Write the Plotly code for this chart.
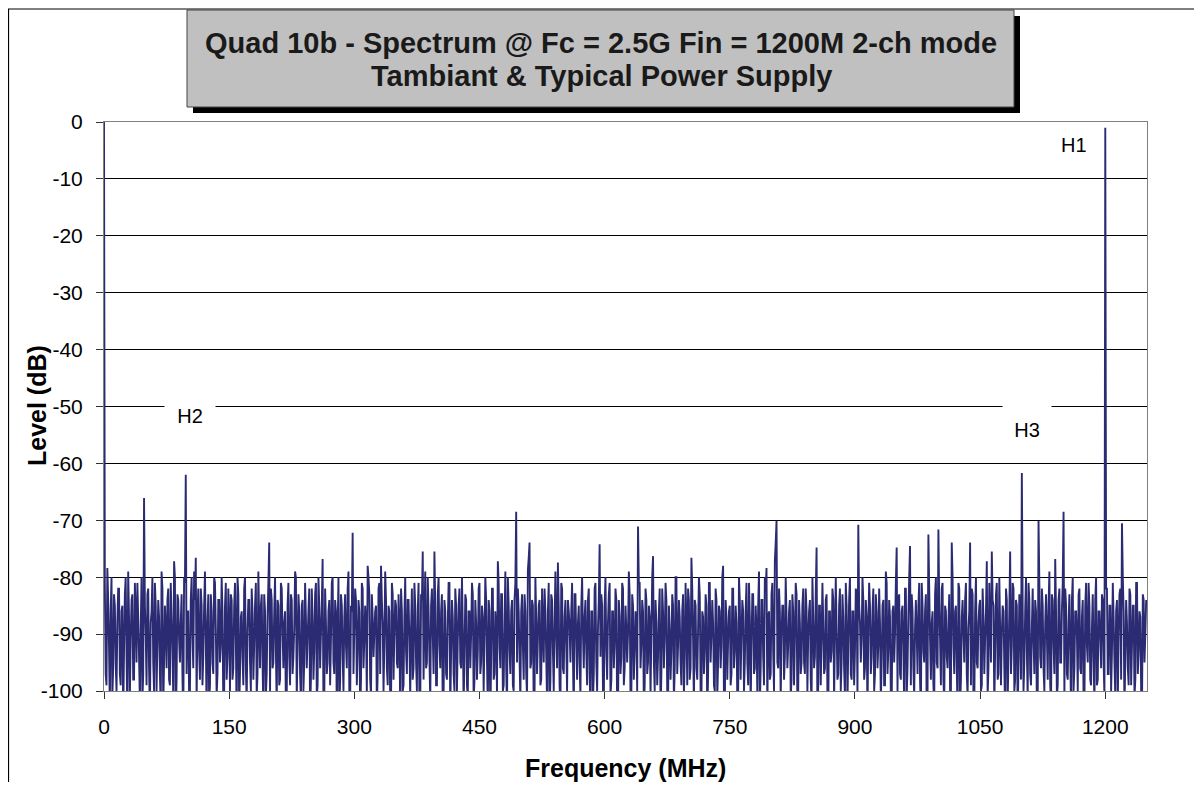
import plotly.graph_objects as go

# ---------------- data ----------------
# spectrum levels (dB) on even MHz bins 0,2,4,...
noise_even_0_250 = [
    -84, -97, -79, -92, -86, -101, -83, -95, -88, -82, -99, -85, -93, -80, -104, -87, -91, -83, -98, -86, -81, -94, -89, -102, -84,
    -90, -83, -96, -88, -80, -100, -85, -92, -87, -103, -82, -95, -89, -84, -98, -81, -93, -86, -105, -83, -91, -88, -97, -80, -94,
    -86, -101, -84, -90, -79, -96, -87, -93, -82, -99, -85, -91, -88, -102, -83, -95, -80, -89, -97, -84, -92, -86, -100, -81, -94,
    -88, -83, -98, -85, -91, -80, -103, -87, -94, -82, -96, -89, -84, -100, -86, -92, -81, -97, -88, -85, -95, -83, -101, -87, -90,
    -82, -96, -86, -93, -84, -99, -81, -90, -88, -104, -85, -94, -83, -97, -89, -80, -92, -86, -102, -84, -95, -87, -91, -82, -98,
]
noise_even_250_500 = [
    -87, -93, -81, -99, -85, -90, -83, -102, -88, -95, -84, -91, -80, -97, -86, -89, -104, -83, -94, -87, -92, -82, -100, -85, -96,
    -89, -84, -93, -86, -98, -82, -91, -88, -95, -83, -101, -87, -90, -85, -97, -81, -94, -88, -92, -84, -99, -86, -103, -83, -90,
    -85, -96, -88, -82, -100, -87, -93, -84, -91, -89, -98, -81, -95, -86, -102, -83, -92, -88, -96, -80, -94, -85, -90, -87, -99,
    -83, -92, -86, -105, -84, -97, -88, -81, -93, -87, -100, -85, -91, -82, -96, -89, -94, -84, -101, -86, -90, -83, -98, -88, -93,
    -81, -95, -87, -91, -84, -103, -86, -94, -82, -97, -89, -85, -92, -83, -100, -88, -96, -80, -93, -86, -99, -84, -90, -82, -94,
]
noise_even_500_750 = [
    -86, -92, -83, -97, -88, -80, -95, -85, -101, -87, -91, -84, -98, -89, -82, -94, -86, -104, -83, -93, -88, -90, -85, -99, -81,
    -96, -87, -92, -84, -89, -86, -94, -83, -91, -88, -95, -85, -90, -87, -93, -84, -97, -86, -102, -82, -95, -89, -91, -83, -100,
    -85, -93, -88, -81, -98, -86, -92, -84, -105, -87, -94, -82, -96, -89, -90, -83, -101, -85, -93, -88, -97, -81, -92, -86, -99,
    -84, -95, -87, -90, -83, -100, -88, -94, -82, -97, -86, -91, -84, -103, -89, -93, -85, -96, -80, -92, -87, -99, -83, -94, -88,
    -82, -98, -86, -91, -84, -96, -89, -83, -102, -87, -93, -85, -97, -81, -90, -88, -100, -84, -95, -86, -92, -83, -104, -87, -91,
]
noise_even_750_1000 = [
    -85, -97, -82, -93, -88, -101, -84, -90, -86, -95, -81, -99, -87, -92, -83, -96, -89, -85, -103, -84, -94, -80, -91, -87, -98,
    -83, -93, -88, -84, -96, -86, -90, -85, -94, -87, -92, -84, -98, -86, -91, -83, -100, -88, -95, -82, -97, -86, -90, -84, -102,
    -87, -94, -81, -99, -85, -91, -88, -96, -83, -104, -86, -93, -84, -90, -89, -97, -82, -95, -87, -101, -85, -92, -80, -98, -86,
    -93, -83, -100, -88, -91, -84, -96, -87, -89, -85, -94, -82, -97, -86, -92, -88, -95, -84, -99, -81, -93, -87, -103, -85, -90,
    -88, -84, -97, -86, -92, -82, -101, -87, -94, -83, -96, -89, -90, -85, -98, -81, -93, -86, -105, -84, -91, -88, -99, -83, -95,
]
noise_even_1000_1250 = [
    -87, -91, -82, -98, -85, -94, -88, -100, -83, -92, -86, -96, -81, -103, -87, -90, -84, -97, -89, -93, -82, -101, -86, -95, -88,
    -84, -99, -87, -91, -83, -96, -88, -102, -85, -93, -81, -97, -89, -90, -86, -104, -84, -94, -87, -92, -82, -98, -85, -95, -88,
    -83, -100, -86, -93, -81, -97, -89, -91, -84, -103, -87, -94, -82, -96, -88, -90, -85, -99, -83, -92, -87, -101, -84, -95, -86,
    -91, -82, -97, -88, -93, -84, -100, -86, -90, -83, -96, -87, -102, -85, -92, -81, -98, -89, -94, -84, -99, -86, -91, -83, -95,
    -88, -82, -97, -85, -93, -87, -101, -84, -90, -82, -96, -86, -94, -88, -99, -83, -92, -85, -98, -81, -93, -87, -103, -84, -90,
]
# spectrum levels (dB) on odd MHz bins 1,3,5,...
noise_odd_0_250 = [
    -81, -99, -84, -103, -80, -96, -85, -100, -82, -97, -86, -105, -83, -94, -79, -101, -84, -98, -81, -95, -87, -102, -80, -97, -85,
    -99, -82, -104, -86, -95, -81, -100, -84, -97, -79, -103, -85, -96, -82, -99, -87, -101, -80, -98, -84, -95, -83, -106, -81, -97,
    -86, -100, -80, -96, -84, -102, -82, -98, -85, -94, -79, -104, -83, -99, -86, -97, -81, -101, -84, -95, -80, -103, -85, -98, -82,
    -100, -84, -96, -81, -105, -83, -97, -86, -99, -80, -102, -84, -95, -82, -98, -85, -101, -79, -96, -83, -104, -86, -97, -81, -100,
    -84, -95, -80, -103, -85, -98, -82, -96, -86, -101, -81, -99, -84, -94, -79, -102, -83, -97, -85, -100, -81, -96, -86, -104, -82,
]
noise_odd_250_500 = [
    -98, -83, -101, -80, -96, -85, -103, -82, -97, -86, -99, -81, -95, -84, -104, -80, -98, -85, -100, -83, -96, -79, -102, -86, -97,
    -82, -99, -84, -105, -81, -96, -85, -101, -80, -98, -83, -94, -86, -103, -82, -97, -84, -100, -79, -96, -85, -102, -81, -98, -84,
    -95, -83, -104, -86, -99, -80, -97, -84, -101, -82, -96, -85, -100, -81, -103, -84, -98, -79, -95, -86, -102, -82, -97, -85, -99,
    -80, -96, -83, -101, -86, -98, -81, -104, -84, -97, -82, -100, -85, -95, -80, -103, -83, -99, -86, -96, -81, -102, -84, -98, -82,
    -97, -85, -100, -80, -95, -84, -106, -82, -98, -86, -101, -81, -96, -83, -99, -79, -103, -85, -97, -84, -100, -81, -95, -86, -102,
]
noise_odd_500_750 = [
    -83, -98, -86, -101, -81, -96, -84, -104, -80, -97, -85, -99, -82, -95, -86, -102, -81, -98, -84, -100, -79, -96, -85, -103, -82,
    -97, -84, -100, -86, -95, -81, -105, -83, -98, -85, -101, -80, -96, -84, -99, -82, -103, -86, -97, -81, -100, -84, -94, -85, -102,
    -80, -98, -83, -101, -86, -96, -82, -104, -84, -97, -81, -99, -85, -95, -79, -102, -83, -98, -86, -100, -81, -96, -84, -103, -82,
    -97, -85, -101, -80, -95, -84, -99, -86, -104, -82, -96, -81, -100, -85, -98, -83, -102, -80, -97, -84, -95, -86, -101, -81, -99,
    -84, -96, -82, -103, -85, -98, -80, -100, -86, -97, -83, -105, -81, -95, -84, -99, -82, -101, -85, -96, -80, -102, -84, -98, -86,
]
noise_odd_750_1000 = [
    -99, -82, -96, -85, -102, -80, -98, -84, -100, -86, -95, -81, -103, -83, -97, -85, -101, -79, -96, -84, -99, -82, -104, -86, -97,
    -81, -100, -84, -95, -82, -102, -85, -98, -80, -96, -86, -101, -83, -99, -81, -103, -84, -97, -85, -95, -82, -100, -86, -98, -80,
    -96, -83, -104, -85, -99, -81, -97, -84, -101, -86, -95, -82, -102, -80, -98, -85, -100, -83, -96, -81, -103, -84, -97, -86, -99,
    -82, -101, -85, -95, -80, -98, -84, -105, -81, -97, -86, -100, -83, -96, -82, -102, -85, -99, -79, -97, -84, -101, -86, -95, -81,
    -100, -83, -98, -85, -103, -82, -96, -80, -99, -86, -101, -84, -97, -81, -104, -85, -95, -83, -100, -82, -98, -86, -102, -80, -96,
]
noise_odd_1000_1250 = [
    -84, -99, -81, -102, -86, -96, -83, -100, -80, -97, -85, -104, -82, -98, -84, -95, -81, -101, -86, -99, -83, -103, -80, -96, -85,
    -100, -82, -97, -86, -101, -81, -95, -84, -103, -83, -98, -80, -99, -85, -96, -82, -102, -86, -97, -81, -100, -84, -105, -83, -98,
    -85, -95, -80, -101, -84, -99, -82, -97, -86, -103, -81, -96, -85, -100, -83, -98, -79, -102, -84, -97, -86, -99, -82, -95, -81,
    -101, -85, -98, -83, -104, -80, -96, -86, -100, -82, -97, -84, -102, -81, -95, -85, -99, -83, -103, -80, -98, -86, -96, -84, -101,
    -82, -97, -85, -100, -81, -95, -86, -102, -83, -98, -80, -104, -84, -96, -82, -99, -85, -101, -81, -97, -86, -100, -83, -95, -84,
]

# tones / spurs (frequency MHz, level dB)
spur_freq_mhz = [0, 4, 48, 84, 98, 110, 198, 262, 298, 316, 332, 382, 396, 472, 494,
                 508, 509, 510, 544, 594, 640, 658, 704, 742, 794,
                 804, 805, 806, 854,
                 904, 950, 966, 988, 1000, 1016, 1038, 1058, 1064, 1086, 1100, 1120,
                 1140, 1150, 1200, 1220]
spur_level_db = [0.0, -78.4, -66.1, -77.2, -62.0, -76.6, -73.9, -76.8, -72.2, -78.0, -78.0, -75.5, -75.5, -77.2, -68.5,
                 -78.8, -76.6, -73.9, -77.4, -74.2, -71.1, -76.3, -76.6, -78.0, -78.4,
                 -77.0, -74.0, -70.1, -74.8,
                 -70.8, -74.8, -74.5, -72.5, -71.6, -73.9, -73.9, -77.2, -75.5, -75.5, -61.7, -70.1,
                 -76.8, -68.5, -1.0, -70.5]

label_text = ["H1", "H2", "H3"]
label_freq_mhz = [1163, 103, 1106]
label_level_db = [-4.0, -51.7, -54.1]

x_ticks = [0, 150, 300, 450, 600, 750, 900, 1050, 1200]
y_ticks = [0, -10, -20, -30, -40, -50, -60, -70, -80, -90, -100]

title_line1 = "Quad 10b - Spectrum @ Fc = 2.5G Fin = 1200M 2-ch mode"
title_line2 = "Tambiant & Typical Power Supply"

# ---------------- build series ----------------
even = (noise_even_0_250 + noise_even_250_500 + noise_even_500_750
        + noise_even_750_1000 + noise_even_1000_1250)
odd = (noise_odd_0_250 + noise_odd_250_500 + noise_odd_500_750
       + noise_odd_750_1000 + noise_odd_1000_1250)
spectrum = {2 * i: v for i, v in enumerate(even)}
spectrum.update({2 * i + 1: v for i, v in enumerate(odd)})
for f, lv in zip(spur_freq_mhz, spur_level_db):
    spectrum[f] = lv
freq_mhz = sorted(spectrum)
level_db = [spectrum[f] for f in freq_mhz]

# ---------------- layout geometry ----------------
OFF = 8  # page body margin of the html output
W, H = 1190, 774
# plot area in screen pixels
SL, SR, ST, SB = 104, 1147, 122, 691
L, R, T, B = SL - OFF, SR - OFF, ST - OFF, SB - OFF
PW, PH = R - L, B - T


def px(xs):
    return (xs - OFF - L) / PW


def py(ys):
    return (B - (ys - OFF)) / PH


LINE = "#2b2b73"
FONT = "Liberation Sans, Arial, Helvetica, sans-serif"

fig = go.Figure()
fig.add_trace(go.Scatter(
    x=freq_mhz, y=level_db, mode="lines",
    line=dict(color=LINE, width=1.9, simplify=False),
    hoverinfo="skip", showlegend=False,
))

fx0, fx1, fy0, fy1 = px(8.5), px(1196), py(9), py(820)
shapes = [
    # outer chart frame (left, top, right)
    dict(type="path", xref="paper", yref="paper",
         path=f"M {fx0} {fy1} L {fx0} {fy0} L {fx1} {fy0} L {fx1} {fy1}",
         line=dict(color="#000000", width=1.2), layer="below"),
    # title shadow
    dict(type="rect", xref="paper", yref="paper", x0=px(193), x1=px(1020), y0=py(113), y1=py(16),
         line=dict(width=0), fillcolor="#000000", layer="above"),
    # title box
    dict(type="rect", xref="paper", yref="paper", x0=px(187), x1=px(1014), y0=py(107), y1=py(10),
         line=dict(color="#444444", width=1), fillcolor="#c0c0c0", layer="above"),
]

annotations = [
    dict(xref="paper", yref="paper", x=px(601), y=py(43), text=f"<b>{title_line1}</b>",
         showarrow=False, font=dict(family=FONT, size=29, color="#1a1a1a"), xanchor="center", yanchor="middle"),
    dict(xref="paper", yref="paper", x=px(601), y=py(76), text=f"<b>{title_line2}</b>",
         showarrow=False, font=dict(family=FONT, size=29, color="#1a1a1a"), xanchor="center", yanchor="middle"),
    dict(xref="paper", yref="paper", x=px(625), y=py(768), text="<b>Frequency (MHz)</b>",
         showarrow=False, font=dict(family=FONT, size=25, color="#000000"), xanchor="center", yanchor="middle"),
    dict(xref="paper", yref="paper", x=px(37), y=py(406), text="<b>Level (dB)</b>", textangle=-90,
         showarrow=False, font=dict(family=FONT, size=25, color="#000000"), xanchor="center", yanchor="middle"),
]
label_boxes = {"H1": None, "H2": (48, 30), "H3": (46, 50)}
for t, f, lv in zip(label_text, label_freq_mhz, label_level_db):
    a = dict(x=f, y=lv, xref="x", yref="y", text=t, showarrow=False,
             font=dict(family=FONT, size=20, color="#000000"), xanchor="center", yanchor="middle")
    box = label_boxes[t]
    if box:
        a.update(bgcolor="#ffffff", width=box[0], height=box[1])
    annotations.append(a)

fig.update_layout(
    width=W, height=H,
    margin=dict(l=L, r=W - R, t=T, b=H - B, pad=0),
    paper_bgcolor="#ffffff", plot_bgcolor="#ffffff",
    font=dict(family=FONT, size=20, color="#000000"),
    shapes=shapes, annotations=annotations,
    showlegend=False,
)
fig.update_xaxes(
    range=[0, 1250], tickvals=x_ticks, ticktext=[str(v) for v in x_ticks],
    showgrid=False, zeroline=False,
    showline=True, linecolor="#808080", linewidth=1, mirror=True,
    ticks="outside", ticklen=7, tickcolor="#333333", tickwidth=1,
    tickfont=dict(family=FONT, size=21, color="#000000"), ticklabelstandoff=10,
)
fig.update_yaxes(
    range=[-100, 0], tickvals=y_ticks, ticktext=[str(v) for v in y_ticks],
    showgrid=True, gridcolor="#000000", gridwidth=1, zeroline=False,
    showline=True, linecolor="#808080", linewidth=1, mirror=True,
    ticks="outside", ticklen=7, tickcolor="#333333", tickwidth=1,
    tickfont=dict(family=FONT, size=21, color="#000000"), ticklabelstandoff=9,
)

fig.write_html("out.html")
